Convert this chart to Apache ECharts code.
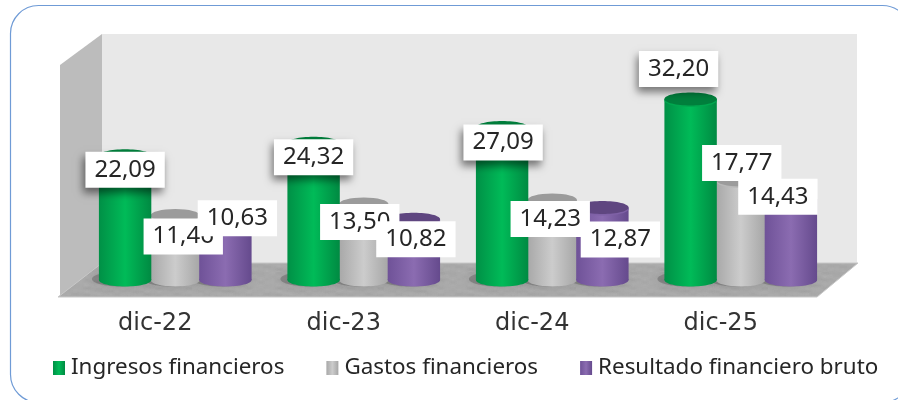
<!DOCTYPE html>
<html><head><meta charset="utf-8">
<style>html,body{margin:0;padding:0;background:#fff}#c{width:898px;height:400px}</style>
<script src="https://cdn.jsdelivr.net/npm/echarts@6/dist/echarts.min.js"></script>
</head><body><div id="c"></div>
<script>
const categories = ['dic-22','dic-23','dic-24','dic-25'];
const ingresos = [22.09,24.32,27.09,32.20];
const gastos = [11.46,13.50,14.23,17.77];
const resultado = [10.63,10.82,12.87,14.43];

// label placement relative to the top of each cylinder
const nudgeIngresos = [[0,14],[0,14],[1,15],[-12,-30]];
const nudgeGastos = [[8,21],[-4,18],[-2,19],[1,-17]];
const nudgeResultado = [[12,-2],[2,20],[18,32],[-13,-2]];

const DEPTH_X = 20, DEPTH_Y = -16, RY = 6.5, FONT = '"Noto Sans", sans-serif';
const grad = (a,b,c) => ({type:'linear',x:0,y:0,x2:1,y2:0,colorStops:[{offset:0,color:a},{offset:.5,color:b},{offset:1,color:c}]});
const skins = [
  {side:grad('#009046','#00bb58','#008a42'),top:'#007f3c',rim:'#00a84f'},
  {side:grad('#a8a8a8','#cccccc','#a6a6a6'),top:'#9b9b9b',rim:'#b8b8b8'},
  {side:grad('#6f5298','#8b6cb1','#654a8d'),top:'#5f4680',rim:'#7f61a6'}
];
const fmt = v => v.toFixed(2).replace('.',',');

// marbled texture for the floor
function floorTexture(){
  const c = document.createElement('canvas'); c.width = 192; c.height = 34;
  const g = c.getContext('2d');
  g.fillStyle = '#ababab'; g.fillRect(0,0,192,34);
  g.filter = 'blur(1.5px)';
  for(let y=0;y<34;y+=3) for(let x=0;x<192;x+=6){
    const t = Math.sin(x*0.19+y*1.3)+Math.sin(x*0.071-y*0.9)+Math.sin((x+2*y)*0.43);
    g.fillStyle = t>0 ? 'rgba(255,255,255,'+(t*0.05)+')' : 'rgba(60,60,60,'+(-t*0.04)+')';
    g.fillRect(x,y,6,3);
  }
  return c;
}

function cylinder(si, nudges){
  return function(params, api){
    const i = api.value(0), v = api.value(1);
    const top = api.coord([i,v]), base = api.coord([i,0]);
    const band = api.size([1,0])[0];
    const cx = top[0] + DEPTH_X + (si-1)*band*0.266;
    const w = band*(si===1?0.262:0.278), rx = w/2;
    const yt = top[1]+DEPTH_Y, yb = base[1]+DEPTH_Y;
    const s = skins[si], z = si===1?1:2, n = nudges[i];
    const shadow = si===0 ? {shadowBlur:8,shadowColor:'rgba(0,0,0,.5)',shadowOffsetX:-2,shadowOffsetY:5} : {};
    return {type:'group',children:[
      {type:'ellipse',z2:0,shape:{cx:cx-4,cy:yb-1,rx:rx+3,ry:RY+1},style:{fill:'rgba(60,60,60,.3)',shadowBlur:10,shadowColor:'rgba(60,60,60,.55)'}},
      {type:'ellipse',z2:z,shape:{cx,cy:yb,rx,ry:RY},style:{fill:s.side}},
      {type:'rect',z2:z,shape:{x:cx-rx,y:yt,width:w,height:yb-yt},style:{fill:s.side}},
      {type:'ellipse',z2:z,shape:{cx,cy:yt+1.5,rx,ry:RY},style:{fill:s.rim}},
      {type:'ellipse',z2:z,shape:{cx,cy:yt,rx,ry:RY},style:{fill:s.top}},
      {type:'text',z2:100+si*10,x:cx+n[0],y:yt+n[1],style:Object.assign({
        text:fmt(v),font:'24px '+FONT,fill:'#262626',align:'center',verticalAlign:'middle',
        backgroundColor:'#fff',padding:[4,9,4,9],lineHeight:28},shadow)}
    ]};
  };
}
function series(name,data,si,nudges){
  return {type:'custom',name,data:data.map((v,i)=>[i,v]),encode:{x:0,y:1},
    itemStyle:{color:skins[si].side},renderItem:cylinder(si,nudges),clip:false,silent:true};
}
function poly(points,fill,z,extra){return {type:'polygon',z,silent:true,shape:{points},style:Object.assign({fill},extra||{})};}

const chart = echarts.init(document.getElementById('c'),null,{renderer:'canvas'});
chart.setOption({
  animation:false,
  backgroundColor:'#fff',
  grid:{left:61,width:754,top:71,height:225},
  xAxis:{type:'category',data:categories,axisLine:{show:false},axisTick:{show:false},
    axisLabel:{fontFamily:'"DejaVu Sans", sans-serif',fontSize:24,color:'#333333',margin:16}},
  yAxis:{type:'value',min:0,max:40,show:false,splitLine:{show:false}},
  legend:{left:48,top:352,icon:'rect',itemWidth:12,itemHeight:14,itemGap:42,
    textStyle:{fontFamily:FONT,fontSize:22.4,color:'#262626',padding:[0,0,0,1]},
    data:['Ingresos financieros','Gastos financieros','Resultado financiero bruto']},
  graphic:[
    {type:'rect',z:0,silent:true,shape:{x:10.5,y:5.5,width:900,height:397,r:28},style:{fill:'#fff',stroke:'#6f9bd6',lineWidth:1.2}},
    poly([[102,34],[857,34],[857,263],[102,263]],'#e8e8e8',1),
    poly([[60,65],[102,34],[102,263],[60,296]],'#bcbcbc',1),
    poly([[58,297],[102,263],[858,263],[817,297]],{image:floorTexture(),repeat:'repeat'},1,{stroke:'#c8c8c8',lineWidth:1})
  ],
  series:[
    series('Ingresos financieros',ingresos,0,nudgeIngresos),
    series('Gastos financieros',gastos,1,nudgeGastos),
    series('Resultado financiero bruto',resultado,2,nudgeResultado)
  ]
});
</script></body></html>
